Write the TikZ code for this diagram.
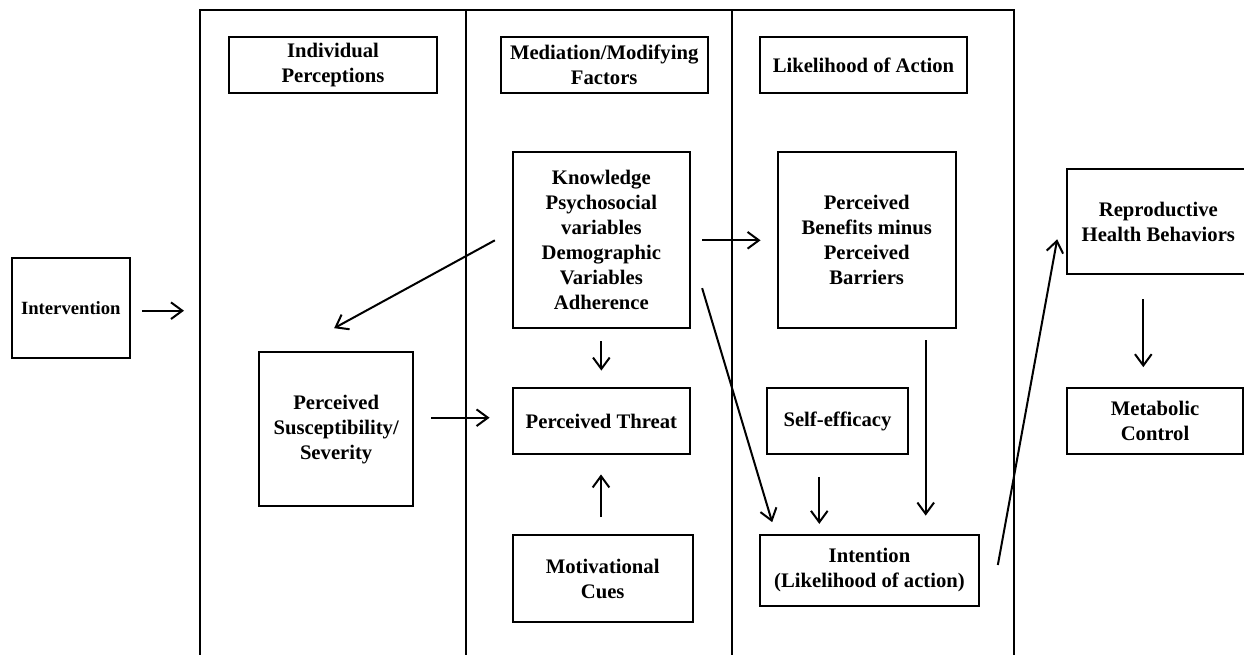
\documentclass[tikz,border=0pt]{standalone}
\usepackage{fontspec}
\setmainfont{Liberation Serif}
\usetikzlibrary{arrows.meta,calc}
\begin{document}
\begin{tikzpicture}[x=0.75pt,y=-0.75pt,
  box/.style={draw, line width=1.7pt, align=center, inner sep=0pt,
    font=\fontsize{15.5}{18.75}\selectfont\bfseries},
  arr/.style={line width=1.5pt, -{Straight Barb[length=8.5pt,width=12.5pt,line width=1.5pt]}},
  frame/.style={line width=1.6pt}]
\useasboundingbox (0,0) rectangle (1244,654);

% outer frame and column dividers
\draw[frame] (200,660) -- (200,10) -- (1014,10) -- (1014,660);
\draw[frame] (465.7,10) -- (465.7,660);
\draw[frame] (731.7,10) -- (731.7,660);
\coordinate (frameW) at (200,310.7);

% column headers
\node[box, minimum width=208pt*0.75, minimum height=56pt*0.75] (indiv) at (333,65) {Individual\\Perceptions};
\node[box, minimum width=207pt*0.75, minimum height=56pt*0.75] (media) at (604.2,65) {Mediation/Modifying\\Factors};
\node[box, minimum width=207pt*0.75, minimum height=56pt*0.75] (likeli) at (863.5,65) {Likelihood of Action};

% model boxes
\node[box, minimum width=118.3pt*0.75, minimum height=100.6pt*0.75,
  font=\fontsize{14}{17}\selectfont\bfseries] (interv) at (70.85,308) {Intervention};
\node[box, minimum width=177.3pt*0.75, minimum height=176pt*0.75] (know) at (601.35,240.3)
  {Knowledge\\Psychosocial\\variables\\Demographic\\Variables\\Adherence};
\node[box, minimum width=178pt*0.75, minimum height=176pt*0.75] (benef) at (866.7,240.3)
  {Perceived\\Benefits minus\\Perceived\\Barriers};
\node[box, minimum width=183.3pt*0.75, minimum height=104.7pt*0.75] (repro) at (1158.35,221.65)
  {Reproductive\\Health Behaviors};
\node[box, minimum width=176.6pt*0.75, minimum height=66pt*0.75] (metab) at (1155,421.3)
  {Metabolic\\Control};
\node[box, minimum width=154.3pt*0.75, minimum height=153.7pt*0.75] (suscep) at (336.15,429.15)
  {Perceived\\Susceptibility/\\Severity};
\node[box, minimum width=177.3pt*0.75, minimum height=66pt*0.75] (threat) at (601.35,421.3) {Perceived Threat};
\node[box, minimum width=180pt*0.75, minimum height=87.3pt*0.75] (motiv) at (602.7,578.65) {Motivational\\Cues};
\node[box, minimum width=141.6pt*0.75, minimum height=66pt*0.75] (selfeff) at (837.5,421.3) {Self-efficacy};
\node[box, minimum width=219pt*0.75, minimum height=71pt*0.75] (intent) at (869.5,570.5) {Intention\\(Likelihood of action)};

% connectors
\draw[arr] ($(interv.east)+(10.7,2.7)$) -- ($(frameW)+(-16,0)$);
\draw[arr] ($(know.west)+(-16.7,0)$) -- ($(suscep.north)+(-2,-23)$);
\draw[arr] ($(know.east)+(11,0)$) -- ($(benef.west)+(-16,0)$);
\draw[arr] ($(know.south)+(0,11.7)$) -- ($(threat.north)+(0,-16.6)$);
\draw[arr] ($(suscep.east)+(16.7,-11.45)$) -- ($(threat.west)+(-22,-3.6)$);
\draw[arr] ($(motiv.north)+(-1.7,-16.7)$) -- ($(threat.south)+(-0.35,19)$);
\draw[arr] ($(know.south east)+(11,-41.3)$) -- ($(intent.north west)+(13.3,-11.7)$);
\draw[arr] ($(selfeff.south)+(-18.2,21.4)$) -- ($(intent.north)+(-50.2,-10)$);
\draw[arr] ($(benef.south)+(59,10.7)$) -- ($(intent.north)+(56.2,-18.3)$);
\draw[arr] ($(intent.east)+(17.7,-5.5)$) -- ($(repro.west)+(-8.4,17.65)$);
\draw[arr] ($(repro.south)+(-15.05,24)$) -- ($(metab.north)+(-11.7,-20)$);
\end{tikzpicture}
\end{document}
